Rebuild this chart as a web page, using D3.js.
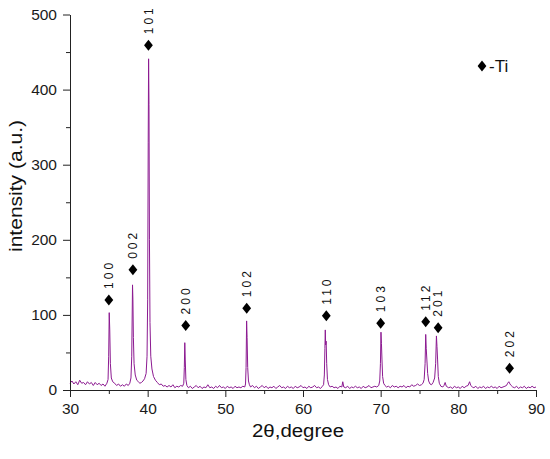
<!DOCTYPE html>
<html>
<head>
<meta charset="utf-8">
<script src="https://cdn.jsdelivr.net/npm/d3@7"></script>
<style>
  body { margin: 0; background: #fff; }
  svg { display: block; font-family: "Liberation Sans", Arial, sans-serif; }
</style>
</head>
<body>
<div id="chart"></div>
<script>
var pattern = [
  [30.0, 9], [30.25, 12], [30.5, 8], [30.75, 11], [31.0, 7], [31.25, 13], [31.5, 9], [31.75, 10],
  [32.0, 7], [32.25, 11], [32.5, 8], [32.75, 10], [33.0, 6], [33.25, 10], [33.5, 7], [33.75, 9],
  [34.0, 6], [34.25, 8], [34.5, 5], [34.75, 9], [34.9, 14], [34.98, 45], [35.05, 103], [35.12, 80],
  [35.2, 35], [35.32, 16], [35.5, 11], [35.75, 9], [36.0, 6], [36.25, 8], [36.5, 5], [36.75, 7],
  [37.0, 5], [37.25, 8], [37.5, 6], [37.7, 9], [37.85, 16], [37.95, 45], [38.05, 140], [38.1, 120],
  [38.16, 70], [38.25, 35], [38.4, 20], [38.6, 13], [38.8, 11], [39.0, 9], [39.2, 10], [39.4, 12],
  [39.6, 15], [39.8, 22], [39.92, 45], [40.0, 120], [40.07, 330], [40.12, 441], [40.17, 380],
  [40.23, 200], [40.3, 90], [40.4, 45], [40.55, 28], [40.75, 18], [41.0, 13], [41.25, 10],
  [41.5, 7], [41.75, 8], [42.0, 5], [42.25, 6], [42.5, 4], [42.75, 6], [43.0, 4], [43.25, 7],
  [43.5, 3], [43.75, 5], [44.0, 4], [44.25, 6], [44.5, 5], [44.65, 9], [44.72, 30], [44.78, 63],
  [44.84, 40], [44.92, 14], [45.05, 6], [45.25, 3], [45.5, 5], [45.75, 2], [46.0, 4], [46.25, 6],
  [46.5, 3], [46.75, 5], [47.0, 2], [47.25, 4], [47.5, 3], [47.75, 7], [48.0, 3], [48.25, 4],
  [48.5, 2], [48.75, 5], [49.0, 3], [49.25, 6], [49.5, 3], [49.75, 4], [50.0, 2], [50.25, 5],
  [50.5, 3], [50.75, 4], [51.0, 2], [51.25, 5], [51.5, 3], [51.75, 4], [52.0, 3], [52.25, 5],
  [52.5, 4], [52.6, 8], [52.67, 30], [52.74, 92], [52.8, 70], [52.88, 30], [52.98, 12], [53.1, 7],
  [53.25, 4], [53.5, 6], [53.75, 3], [54.0, 5], [54.25, 2], [54.5, 4], [54.75, 6], [55.0, 3],
  [55.25, 5], [55.5, 2], [55.75, 4], [56.0, 3], [56.25, 5], [56.5, 2], [56.75, 4], [57.0, 6],
  [57.25, 3], [57.5, 4], [57.75, 2], [58.0, 5], [58.25, 3], [58.5, 4], [58.75, 2], [59.0, 5],
  [59.25, 3], [59.5, 4], [59.75, 6], [60.0, 3], [60.25, 4], [60.5, 2], [60.75, 5], [61.0, 3],
  [61.25, 4], [61.5, 6], [61.75, 3], [62.0, 4], [62.25, 2], [62.5, 5], [62.65, 7], [62.75, 20],
  [62.82, 55], [62.87, 80], [62.92, 60], [62.98, 65], [63.05, 35], [63.15, 14], [63.3, 7],
  [63.5, 4], [63.75, 5], [64.0, 3], [64.25, 4], [64.5, 2], [64.75, 5], [65.0, 4], [65.12, 11],
  [65.25, 4], [65.5, 3], [65.75, 5], [66.0, 2], [66.25, 4], [66.5, 3], [66.75, 5], [67.0, 3],
  [67.25, 4], [67.5, 2], [67.75, 5], [68.0, 3], [68.25, 4], [68.5, 6], [68.75, 3], [69.0, 4],
  [69.25, 5], [69.5, 4], [69.75, 6], [69.88, 12], [69.97, 35], [70.04, 77], [70.1, 62],
  [70.17, 40], [70.25, 18], [70.38, 9], [70.55, 6], [70.75, 4], [71.0, 5], [71.25, 3], [71.5, 6],
  [71.75, 4], [72.0, 5], [72.25, 3], [72.5, 5], [72.75, 4], [73.0, 6], [73.25, 3], [73.5, 5],
  [73.75, 4], [74.0, 7], [74.25, 5], [74.5, 6], [74.75, 8], [75.0, 6], [75.25, 7], [75.45, 9],
  [75.6, 14], [75.72, 35], [75.8, 74], [75.87, 55], [75.95, 40], [76.05, 22], [76.18, 12],
  [76.35, 8], [76.55, 7], [76.75, 10], [76.95, 16], [77.08, 35], [77.18, 72], [77.25, 58],
  [77.33, 40], [77.42, 18], [77.55, 9], [77.75, 5], [78.0, 4], [78.15, 6], [78.3, 10], [78.45, 5],
  [78.75, 3], [79.0, 4], [79.25, 2], [79.5, 5], [79.75, 3], [80.0, 4], [80.25, 2], [80.5, 5],
  [80.75, 3], [81.0, 5], [81.25, 6], [81.45, 11], [81.6, 6], [81.8, 4], [82.0, 3], [82.25, 5],
  [82.5, 2], [82.75, 4], [83.0, 3], [83.25, 5], [83.5, 2], [83.75, 4], [84.0, 3], [84.25, 5],
  [84.5, 3], [84.75, 4], [85.0, 2], [85.25, 5], [85.5, 3], [85.75, 4], [86.0, 5], [86.2, 6],
  [86.35, 9], [86.5, 11], [86.65, 8], [86.8, 6], [87.0, 4], [87.25, 3], [87.5, 5], [87.75, 2],
  [88.0, 4], [88.25, 3], [88.5, 5], [88.75, 2], [89.0, 4], [89.25, 3], [89.5, 5], [89.75, 3],
  [90.0, 4]
]

// Ti reflections: marker position and (hkl)
var peakAngles = [35.0, 38.1, 40.1, 44.9, 52.75, 63.0, 70.0, 75.8, 77.4, 86.6]
var peakMarks = [120, 160, 459, 86, 109, 99, 89, 91, 83, 29]
var peakHkl = ['100', '002', '101', '200', '102', '110', '103', '112', '201', '202']

var xTicks = [30, 40, 50, 60, 70, 80, 90]
var xMinor = [35, 45, 55, 65, 75, 85]
var yTicks = [0, 100, 200, 300, 400, 500]
var yMinor = [50, 150, 250, 350, 450]

var width = 550
var height = 459
var plotLeft = 70, plotRight = 536, plotTop = 14.5, plotBottom = 390
var lineColor = '#8c1a91'
var font = '"Liberation Sans", Arial, sans-serif'

var x = d3.scaleLinear().domain([30, 90]).range([plotLeft, plotRight])
var y = d3.scaleLinear().domain([0, 500]).range([plotBottom, plotTop])

var svg = d3.select('#chart').append('svg')
      .attr('width', width)
      .attr('height', height)

// diamond a bit wider than d3's own
var diamond = {
  draw: function (ctx, size) {
    var h = Math.sqrt(size) / 2
    var w = h * 0.8
    ctx.moveTo(0, -h)
    ctx.lineTo(w, 0)
    ctx.lineTo(0, h)
    ctx.lineTo(-w, 0)
    ctx.closePath()
  }
}

// spectrum
svg.append('path')
    .datum(pattern)
    .attr('fill', 'none')
    .attr('stroke', lineColor)
    .attr('stroke-width', 1)
    .attr('stroke-linejoin', 'round')
    .attr('d', d3.line().x(function (d) { return x(d[0]) }).y(function (d) { return y(d[1]) }))

// axes
function styleAxis (g) {
  g.selectAll('.domain').attr('stroke', '#222')
  g.selectAll('.tick line').attr('stroke', '#222')
  g.selectAll('.tick text').attr('fill', '#1a1a1a').attr('font-size', 15.5).attr('font-family', font)
}

svg.append('g')
    .attr('transform', 'translate(0,' + plotBottom + ')')
    .call(d3.axisBottom(x).tickValues(xMinor).tickSize(4).tickFormat(''))
    .call(function (g) { g.select('.domain').remove() })
    .call(styleAxis)

svg.append('g')
    .attr('transform', 'translate(0,' + plotBottom + ')')
    .call(d3.axisBottom(x).tickValues(xTicks).tickSizeInner(7).tickSizeOuter(0).tickPadding(6))
    .call(styleAxis)

svg.append('g')
    .attr('transform', 'translate(' + plotLeft + ',0)')
    .call(d3.axisLeft(y).tickValues(yMinor).tickSize(4).tickFormat(''))
    .call(function (g) { g.select('.domain').remove() })
    .call(styleAxis)

svg.append('g')
    .attr('transform', 'translate(' + plotLeft + ',0)')
    .call(d3.axisLeft(y).tickValues(yTicks).tickSizeInner(7).tickSizeOuter(0).tickPadding(6))
    .call(styleAxis)

// axis titles
svg.append('text')
    .attr('x', 298)
    .attr('y', 437)
    .attr('text-anchor', 'middle')
    .attr('font-size', 18)
    .attr('textLength', 92)
    .attr('lengthAdjust', 'spacingAndGlyphs')
    .attr('fill', '#111')
    .text('2\u03b8,degree')

svg.append('text')
    .attr('transform', 'translate(22,186) rotate(-90)')
    .attr('text-anchor', 'middle')
    .attr('font-size', 18)
    .attr('textLength', 132)
    .attr('lengthAdjust', 'spacingAndGlyphs')
    .attr('fill', '#111')
    .text('intensity (a.u.)')

// peak markers and labels
var peaks = svg.append('g')
  .selectAll('g')
  .data(peakAngles)
  .join('g')
    .attr('transform', function (d, i) { return 'translate(' + x(d) + ',' + y(peakMarks[i]) + ')' })

peaks.append('path')
    .attr('d', d3.symbol().type(diamond).size(121))
    .attr('fill', '#000')

peaks.append('text')
    .attr('transform', 'translate(0,-11) rotate(-90)')
    .attr('dy', '0.36em')
    .attr('font-size', 12)
    .attr('letter-spacing', 3)
    .attr('fill', '#111')
    .text(function (d, i) { return peakHkl[i] })

// legend
svg.append('path')
    .attr('transform', 'translate(482,66)')
    .attr('d', d3.symbol().type(diamond).size(121))
    .attr('fill', '#000')

svg.append('text')
    .attr('x', 489)
    .attr('y', 72)
    .attr('font-size', 17)
    .attr('fill', '#111')
    .text('-Ti')
</script>
</body>
</html>
